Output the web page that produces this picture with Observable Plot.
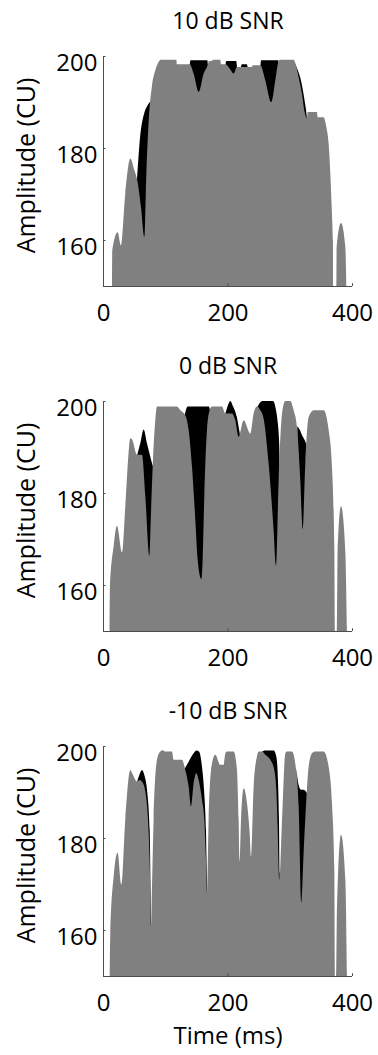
<!DOCTYPE html>
<html><head><meta charset="utf-8">
<script src="https://cdn.jsdelivr.net/npm/d3@7"></script>
<script src="https://cdn.jsdelivr.net/npm/@observablehq/plot@0.6"></script>
<style>body{margin:0;background:#fff;} #chart{width:378px;} svg{display:block;}</style>
</head><body><div id="chart"></div>
<script>
const titles = ["10 dB SNR", "0 dB SNR", "-10 dB SNR"];
const xTicks = [0, 200, 400];
const yTicks = [160, 180, 200];
const yLabel = "Amplitude (CU)";
const xLabel = "Time (ms)";

// [time ms, amplitude CU]; null separates black segments
const gray10 = [[14.4,150],[14.9,157.8],[23.5,161.7],[28.9,158.8],[35.8,170.1],[43.9,177.7],[50.3,175.2],[55.6,172.6],[61,167.2],[66.4,160.7],[69.6,174.4],[73.3,185.7],[78.7,193.6],[84,196.9],[90.4,198.9],[92.1,199.2],[117.8,199.2],[118.8,198.2],[139.2,198.2],[145.6,196.2],[153.7,192.2],[161.7,196.2],[168.1,198],[170.2,198.9],[175,198.9],[176.1,199.2],[188.4,199.2],[189.5,198.2],[196.5,198.2],[203.4,197.3],[209.9,196.2],[215.2,197.6],[239.3,197.6],[240.4,198],[252.7,198],[260.8,194.7],[270.3,190],[276.8,194.7],[282.1,198.9],[283.7,199.2],[306.2,199.2],[309.5,198.2],[314.3,195.4],[319.6,191.8],[323.9,187.8],[327.7,186.4],[328.7,187.8],[343.7,187.8],[344.8,186.7],[354.4,186.7],[358.7,184.6],[362.5,180.9],[365.2,174.4],[367.8,165.7],[369.4,159.9],[369.7,150],[374.8,150],[375.3,158.5],[382.3,163.7],[389.3,158.5],[390.9,150]];
const black10 = [[54.6,173],[59.9,182.8],[65.3,187.1],[71.7,189.3],[77.6,190.4],[82.4,191.1],null,
  [139.4,198.1],[140.4,199.1],[167.6,199.1],[168.6,197.9],null,
  [196.8,198.1],[198,198.9],[214,198.9],[215.3,197.5],null,
  [221.5,197.5],[223,198.2],[231,198.2],[232.5,197.5],null,
  [252.8,197.9],[254,199.1],[281,199.1],[282.2,198.8],null,
  [306.2,199.1],[312.7,197],[318,194.7],[323.4,190.7],[327.7,186.3],[329,184]];

const gray0 = [[10.7,150],[11.2,159.9],[17.1,168.5],[22.4,172.9],[30.5,167.1],[35.8,177.1],[39.6,185.8],[43.9,191.9],[46.5,191.7],[54.6,188.3],[62.6,188.3],[68,179.3],[74.4,166.3],[77.1,175.7],[80.3,187.2],[84,195.8],[86.7,198.8],[118.8,198.8],[124.2,198],[132.2,196.9],[137.6,193.7],[142.9,185.8],[148.3,174.2],[152,165.6],[157.9,161.3],[160.1,165.6],[162.7,179.3],[167,193.7],[171.3,198],[175,198.8],[191.1,198.8],[196.5,197.3],[207.2,197.3],[212.5,195.8],[217.9,192.2],[226,195.8],[236.7,192.9],[242,197.3],[247.3,198.8],[252.7,198],[258,196.2],[266,186.5],[274,172.1],[277.9,164.2],[282.2,182.9],[287.6,197.3],[292.9,200],[300.9,200],[306.2,198],[311.6,194.4],[316.9,182.9],[320.7,172.1],[325,186.5],[330.3,196.5],[338.4,198],[354.4,198],[362.5,193.7],[367.8,185.8],[371.6,168.5],[372.7,150],[375.9,150],[377,168.5],[382.3,177.1],[389.3,167.1],[391.9,150]];
const black0 = [[54.6,188.1],[59.9,190.8],[65.3,193.8],[70.6,190.8],[76,187.9],[78.6,186.5],[81.3,185.4],null,
  [131,196.8],[136,198.8],[170,198.8],[172,197.9],null,
  [196.5,197.2],[200,198.8],[204.6,200],[209,198.8],[215,196.5],[219,193.5],[221,192],null,
  [248,198.7],[256,200],[273,200],[278,198],[281,195],[283,191],[284,185],null,
  [312,194.5],[315.9,193.8],[320,192.5],[325,191.2],[328,190]];

const grayM10 = [[10.7,150],[11.7,159.4],[17.1,171.7],[23.5,176.8],[29.4,169.9],[35.8,184],[43.9,194.8],[46.5,194.2],[54.6,192.3],[58.8,192.6],[64.2,191.9],[68,190.1],[73.4,181.1],[76,169.5],[77.1,160.9],[78.7,169.5],[81.3,184],[86.7,197],[92,198.8],[96.3,199.1],[100.1,198.8],[110.8,198.8],[113.5,197],[126.9,197],[132.2,194.8],[137.6,191.2],[141.3,186.9],[145.6,191.9],[149.9,194.1],[153.7,192.6],[159,188.3],[162.7,184],[165.4,175.3],[167.1,168.1],[169.7,184],[175,196.2],[180.4,198.1],[188.4,195.9],[193.7,195.9],[196.5,198.4],[199.1,198.8],[209.8,198.8],[215.2,194.8],[217.9,184],[219.5,175],[221.7,184],[226,190.8],[231.3,187.6],[235.6,181.1],[237.7,176],[242,191.2],[247.3,197.7],[250,198.8],[255.4,198.8],[260.8,198.1],[268.8,197],[275.2,194.8],[278.4,190.5],[280.5,182.5],[283.3,171],[287.6,184],[292.9,198.4],[295.5,198.8],[303.6,198.8],[308.9,196.2],[314.3,186.9],[318.5,165.9],[322.3,176.8],[326.6,188.3],[330.3,195.5],[335.7,198.4],[341.1,198.8],[354.4,198.8],[362.5,195.5],[367.8,187.6],[371.6,173.1],[372.7,150],[374.8,150],[375.9,165.2],[382.3,180.7],[389.3,171],[391.9,150]];
const blackM10 = [[54.6,192.2],[57.3,193.3],[62.7,194.8],[66.4,193.7],[70.7,190.5],[75,181.8],[77.1,162.3],[78.1,159.4],null,
  [131,195],[137.6,196.6],[145.6,198.4],[149.9,199],[154.2,198.8],[159,195.5],[162.7,189.7],[165.4,181.8],[167.1,170],[168,166],null,
  [255,198.7],[260.8,199],[274.2,199],[278.4,197.7],[281.1,192.6],[282.7,184],[283.8,172.4],[285,170],null,
  [310.6,195],[314.3,191.5],[318,190.5],[322.3,190.5],[326.6,190],[330.3,189]];

const panels = [
  {title: titles[0], gray: gray10, black: black10},
  {title: titles[1], gray: gray0, black: black0},
  {title: titles[2], gray: grayM10, black: blackM10}
];

function toRows(pairs) {
  let seg = 0; const out = [];
  for (const p of pairs) {
    if (p === null) { seg++; continue; }
    out.push({t: p[0], v: p[1], seg});
  }
  return out;
}

const font = "'Open Sans', sans-serif";
const axisColor = "#4d4d4d";

panels.forEach((p, i) => {
  const last = i === panels.length - 1;
  const chart = Plot.plot({
    width: 378,
    height: last ? 365 : 345,
    marginLeft: 103, marginRight: 26, marginTop: 56, marginBottom: last ? 79 : 59,
    style: {fontFamily: font, background: "white", color: "#000", overflow: "visible"},
    x: {domain: [0, 400]},
    y: {domain: [150, 200]},
    marks: [
      Plot.areaY(toRows(p.black), {x: "t", y1: 150, y2: "v", z: "seg", fill: "#000", curve: "monotone-x"}),
      Plot.areaY(toRows(p.gray), {x: "t", y1: 150, y2: "v", fill: "#808080", curve: "monotone-x"}),
      Plot.ruleX([0], {y1: 150, y2: 200, stroke: axisColor}),
      Plot.ruleY([150], {x1: 0, x2: 400, stroke: axisColor}),
      Plot.ruleY(yTicks, {x1: 0, x2: 4, stroke: axisColor}),
      Plot.ruleX(xTicks, {y1: 150, y2: 150.6, stroke: axisColor}),
      Plot.axisY(yTicks, {tickSize: 0, tickPadding: 6, dy: 7, fontSize: 24, label: null}),
      Plot.axisX(xTicks, {tickSize: 0, tickPadding: 17, fontSize: 24, label: null}),
      Plot.text([p.title], {frameAnchor: "top", lineAnchor: "middle", dy: -35, fontSize: 23}),
      Plot.text([yLabel], {frameAnchor: "left", textAnchor: "middle", lineAnchor: "middle", rotate: -90, dx: -77, dy: -6, fontSize: 25}),
      last ? Plot.text([xLabel], {frameAnchor: "bottom", lineAnchor: "middle", dy: 60, fontSize: 24}) : null
    ]
  });
  document.getElementById("chart").append(chart);
});
</script>
</body></html>
